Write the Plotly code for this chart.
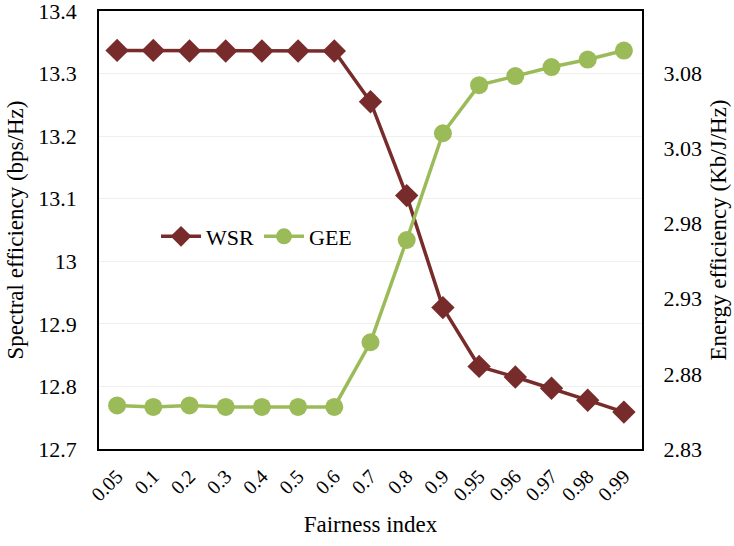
import plotly.graph_objects as go

categories = ["0.05", "0.1", "0.2", "0.3", "0.4", "0.5", "0.6", "0.7", "0.8", "0.9",
              "0.95", "0.96", "0.97", "0.98", "0.99"]
wsr = [13.337, 13.337, 13.336, 13.336, 13.336, 13.336, 13.336, 13.255, 13.105, 12.926,
       12.832, 12.815, 12.797, 12.778, 12.759]
gee = [2.859, 2.858, 2.859, 2.858, 2.858, 2.858, 2.858, 2.901, 2.969, 3.040,
       3.072, 3.078, 3.084, 3.089, 3.095]

font_family = "Liberation Serif"
clear = "rgba(0,0,0,0)"

fig = go.Figure()
fig.add_trace(go.Scatter(
    x=categories, y=wsr, name="WSR", mode="lines+markers",
    line=dict(color="#772B2B", width=3.5),
    marker=dict(symbol="diamond", size=18, color="#772B2B"),
    yaxis="y"))
fig.add_trace(go.Scatter(
    x=categories, y=gee, name="GEE", mode="lines+markers",
    line=dict(color="#9BBB59", width=3.5),
    marker=dict(symbol="circle", size=18, color="#9BBB59"),
    yaxis="y2"))

fig.update_layout(
    width=734, height=546,
    margin=dict(l=99, r=92, t=11, b=97, autoexpand=False),
    plot_bgcolor="white", paper_bgcolor="white",
    font=dict(family=font_family, size=22, color="#000000"),
    showlegend=True,
    legend=dict(x=0.105, y=0.485, xanchor="left", yanchor="middle",
                orientation="h", bgcolor=clear,
                font=dict(size=22), itemwidth=40, tracegroupgap=0),
    xaxis=dict(
        type="category", range=[-0.5, 14.5], automargin=False,
        title=dict(text="Fairness index", font=dict(size=23), standoff=12),
        tickangle=-45, showgrid=False, showline=True, linecolor="black", linewidth=1.5,
        mirror=True, ticks="outside", ticklen=6, tickcolor=clear, tickfont=dict(size=20),
        ticklabeloverflow="allow"),
    yaxis=dict(
        title=dict(text="Spectral efficiency (bps/Hz)", font=dict(size=23), standoff=8),
        range=[12.7, 13.4], dtick=0.1, tick0=12.7, showgrid=True, gridcolor="#EFEFEF",
        showline=True, linecolor="black", linewidth=1.5, mirror=True, automargin=False,
        ticks="outside", ticklen=16, tickcolor=clear, ticklabeloverflow="allow",
        zeroline=False, tickfont=dict(size=22)),
    yaxis2=dict(
        title=dict(text="Energy efficiency (Kb/J/Hz)", font=dict(size=23), standoff=8),
        overlaying="y", side="right", range=[2.83, 3.1213], tick0=2.83, dtick=0.05,
        tickformat=".2f", showgrid=False, ticks="outside", ticklen=16, tickcolor=clear,
        zeroline=False, automargin=False, ticklabeloverflow="allow",
        tickfont=dict(size=22)),
)

fig.write_html("out.html")
